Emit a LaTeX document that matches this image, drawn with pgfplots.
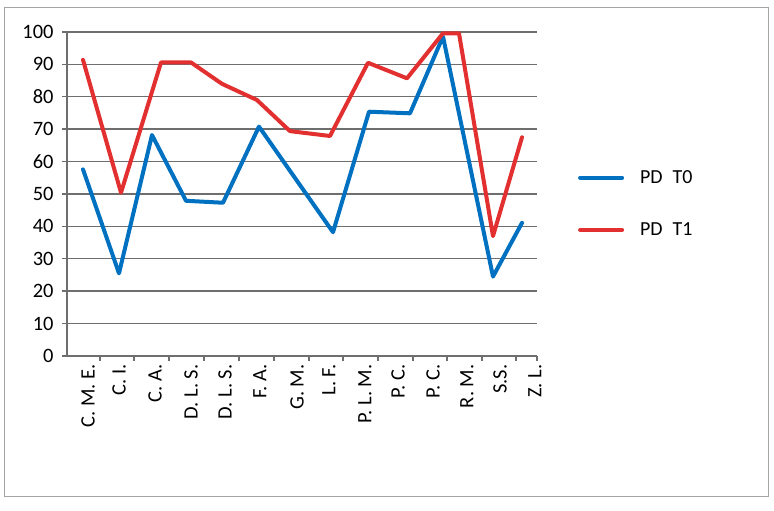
\documentclass[border=0pt]{standalone}
\usepackage{pgfplots}
\pgfplotsset{compat=1.18}
\usepackage{fontspec}
\setmainfont{Carlito}
\definecolor{pdblue}{RGB}{0,112,192}
\definecolor{pdred}{RGB}{226,48,48}
\definecolor{gridc}{RGB}{110,110,110}
\definecolor{framec}{RGB}{165,165,165}
\begin{document}
\begin{tikzpicture}[x=1bp,y=1bp]
\useasboundingbox (-67,-155) rectangle (707,356);
\draw[framec, line width=1bp] (-62,-141) rectangle (701,348);
\begin{axis}[
  at={(0,0)}, anchor=south west,
  scale only axis, width=470bp, height=324bp,
  xmin=67, xmax=537, ymin=0, ymax=100,
  axis x line*=bottom, axis y line*=left,
  axis line style={gridc, line width=1.4bp, -},
  tick align=outside,
  major tick length=5bp,
  tick style={gridc, line width=1.4bp},
  ytick={0,10,...,100},
  ymajorgrids, grid style={gridc, line width=1.4bp},
  xtick={66,100,134,169,204,239,274,309,343,378,413,447,482,516,537},
  xticklabels={},
  extra x ticks={83,114,150,186,220,255,292,324,360,393,428,462,495,530},
  extra x tick labels={C. M. E.,C. I.,C. A.,D. L. S.,D. L. S.,F. A.,G. M.,L. F.,P. L. M.,P. C.,P. C.,R. M.,S.S.,Z. L.},
  extra x tick style={tick style={draw=none}, grid=none,
     xticklabel style={rotate=90, anchor=east, yshift=-5bp}},
  /pgf/number format/assume math mode=true,
  ticklabel style={font=\fontsize{20.5}{24}\selectfont},
  yticklabel style={xshift=-5bp},
  legend style={draw=none, fill=none, at={(1.087,0.47)}, anchor=west,
     font=\fontsize{20}{24}\selectfont, column sep=14bp, row sep=34bp,
     inner sep=0pt},
  legend cell align=left,
  legend image code/.code={\draw[#1, line width=4bp] (0bp,0bp) -- (42bp,0bp);},
]
\addplot[pdblue, line width=4bp, line join=round, line cap=round] coordinates {
 (83,57.6) (119,25.5) (152,68.2) (186,47.9) (223,47.3) (259,70.8)
 (333,38.2) (369,75.4) (410,74.9) (443,98.6) (493,24.5) (522,41.1)};
\addlegendentry{PD\hspace{10bp}T0}
\addplot[pdred, line width=4bp, line join=round, line cap=round] coordinates {
 (83,91.4) (121,50.4) (161,90.6) (191,90.6) (222,84.0) (257,79.0)
 (290,69.4) (330,67.9) (368,90.5) (407,85.7) (443,99.6) (459,99.6)
 (493,37.0) (522,67.5)};
\addlegendentry{PD\hspace{10bp}T1}
\end{axis}
\end{tikzpicture}
\end{document}
